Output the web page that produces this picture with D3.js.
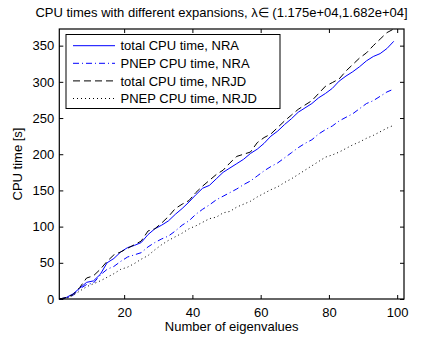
<!DOCTYPE html>
<html>
<head>
<meta charset="utf-8">
<script src="https://cdn.jsdelivr.net/npm/d3@7"></script>
<style>
    body { margin: 0; background: #fff; }
    text { font-family: "Liberation Sans", Arial, Helvetica, sans-serif; }
</style>
</head>
<body>
<svg id="grafico"></svg>
<script>
// number of eigenvalues (x)
const eigen = [1, 3, 5, 7, 9, 11, 13, 15, 17, 19, 21, 23, 25, 27, 29, 31, 33, 35, 37, 39,
    41, 43, 45, 47, 49, 51, 53, 55, 57, 59, 61, 63, 65, 67, 69, 71, 73, 75, 77, 79,
    81, 83, 85, 87, 89, 91, 93, 95, 97, 99];

// CPU time [s]
const totalNRA = [0, 2, 7, 15, 23, 25, 34, 50, 56, 65, 71, 74, 78, 89, 97, 102, 108, 117, 125, 134,
    144, 153, 157, 166, 175, 181, 187, 193, 201, 207, 215, 225, 232, 241, 249, 258, 264, 270, 278, 284,
    291, 301, 308, 314, 321, 329, 335, 339, 346, 356];
const pnepNRA = [0, 1, 5, 14, 20, 22, 33, 41, 45, 52, 58, 61, 64, 72, 78, 83, 87, 94, 102, 108,
    117, 124, 130, 137, 142, 147, 152, 158, 163, 170, 177, 183, 188, 195, 202, 209, 215, 220, 228, 234,
    239, 246, 251, 256, 263, 270, 274, 280, 286, 290];
const totalNRJD = [0, 2, 6, 16, 29, 32, 41, 52, 61, 65, 70, 75, 80, 94, 97, 105, 114, 125, 131, 136,
    147, 156, 164, 172, 178, 188, 197, 200, 203, 216, 223, 228, 237, 246, 254, 262, 268, 274, 284, 294,
    299, 304, 315, 324, 333, 340, 350, 359, 368, 373];
const pnepNRJD = [0, 1, 5, 11, 17, 21, 25, 30, 35, 41, 44, 49, 55, 60, 68, 75, 81, 86, 91, 97,
    101, 106, 111, 113, 119, 121, 127, 131, 135, 141, 146, 151, 155, 161, 166, 172, 178, 184, 190, 196,
    199, 203, 208, 213, 217, 222, 226, 231, 236, 240];

const xTicks = [20, 40, 60, 80, 100];
const yTicks = [0, 50, 100, 150, 200, 250, 300, 350];

const nombres = ['total CPU time, NRA', 'PNEP CPU time, NRA', 'total CPU time, NRJD', 'PNEP CPU time, NRJD'];

const ancho = 430;
const alto = 340;
const izq = 59.3, der = 404, arriba = 29, abajo = 299;

const svg = d3.select('#grafico').attr('width', ancho).attr('height', alto);

const escalaX = d3.scaleLinear().domain([1, 102]).range([izq, der]);
const escalaY = d3.scaleLinear().domain([0, 373]).range([abajo, arriba]);

// series: data, color, dash pattern
const series = [
    {datos: totalNRA, color: '#0000ff', dash: null},
    {datos: pnepNRA, color: '#0000ff', dash: '6,3,1,3'},
    {datos: totalNRJD, color: '#000000', dash: '7,4'},
    {datos: pnepNRJD, color: '#000000', dash: '1,3'}
];

// axes (ticks point inward, box on)
const ejeAbajo = d3.axisBottom(escalaX).tickValues(xTicks).tickSize(-4).tickPadding(9);
const ejeArriba = d3.axisTop(escalaX).tickValues(xTicks).tickSize(-4).tickFormat('');
const ejeIzq = d3.axisLeft(escalaY).tickValues(yTicks).tickSize(-4).tickPadding(5);
const ejeDer = d3.axisRight(escalaY).tickValues(yTicks).tickSize(-4).tickFormat('');

function dibujaEje (eje, tx, ty) {
    const g = svg.append('g')
        .attr('transform', 'translate(' + tx + ',' + ty + ')')
        .call(eje);
    g.select('.domain').remove();
    g.selectAll('line').attr('stroke', '#000');
    g.selectAll('text')
        .attr('fill', '#000')
        .style('font-size', '13px')
        .style('font-family', '"Liberation Sans", Arial, sans-serif');
    return g;
}
dibujaEje(ejeAbajo, 0, abajo);
dibujaEje(ejeArriba, 0, arriba);
dibujaEje(ejeIzq, izq, 0);
dibujaEje(ejeDer, der, 0);

// lines
const linea = d3.line()
    .x(function (d, i) { return escalaX(eigen[i]); })
    .y(function (d) { return escalaY(d); });

series.forEach(function (s) {
    svg.append('path')
        .attr('d', linea(s.datos))
        .attr('fill', 'none')
        .attr('stroke', s.color)
        .attr('stroke-width', 1)
        .attr('stroke-dasharray', s.dash);
});

// box
svg.append('rect')
    .attr('x', izq).attr('y', arriba)
    .attr('width', der - izq).attr('height', abajo - arriba)
    .attr('fill', 'none')
    .attr('stroke', '#000')
    .attr('stroke-width', 1.2);

// legend
const leyenda = svg.append('g');
leyenda.append('rect')
    .attr('x', 66).attr('y', 34.5)
    .attr('width', 214).attr('height', 74)
    .attr('fill', '#fff')
    .attr('stroke', '#000')
    .attr('stroke-width', 1);
series.forEach(function (s, i) {
    const yy = 45.7 + i * 17.6;
    leyenda.append('line')
        .attr('x1', 73).attr('x2', 115)
        .attr('y1', yy).attr('y2', yy)
        .attr('stroke', s.color)
        .attr('stroke-width', 1)
        .attr('stroke-dasharray', s.dash);
    leyenda.append('text')
        .attr('x', 120.5).attr('y', yy + 4.6)
        .style('font-size', '13px')
        .text(nombres[i]);
});

// title and labels
svg.append('text')
    .attr('x', 221.5).attr('y', 17)
    .attr('text-anchor', 'middle')
    .style('font-size', '13px')
    .text('CPU times with different expansions, λ∈ (1.175e+04,1.682e+04]');

svg.append('text')
    .attr('x', (izq + der) / 2).attr('y', 331)
    .attr('text-anchor', 'middle')
    .style('font-size', '13px')
    .text('Number of eigenvalues');

svg.append('text')
    .attr('transform', 'translate(21.5,' + (arriba + abajo) / 2 + ') rotate(-90)')
    .attr('text-anchor', 'middle')
    .style('font-size', '13px')
    .text('CPU time [s]');
</script>
</body>
</html>
